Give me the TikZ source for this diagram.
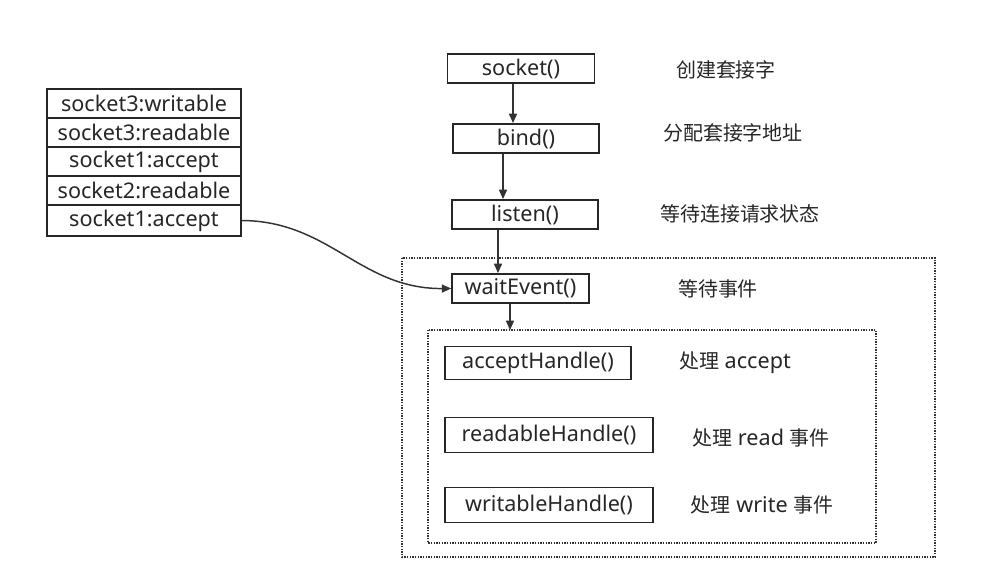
\documentclass[tikz,border=0pt]{standalone}
\usepackage{fontspec}
\setmainfont{Noto Sans}
\newfontfamily\cjk{Noto Sans CJK SC}[Scale=0.925]
\usetikzlibrary{arrows.meta}
\begin{document}
\begin{tikzpicture}[x=0.75pt,y=-0.75pt,
  every node/.style={font=\fontsize{16.2}{19}\selectfont, text=black!85},
  fbox/.style={draw=black!85, line width=1.2pt, minimum height=22pt, inner sep=0pt},
  qrow/.style={draw=black!85, line width=1pt, minimum width=145.5pt, minimum height=21.75pt, inner sep=0pt},
  lbl/.style={anchor=center},
  arr/.style={draw=black!80, line width=1.1pt, -{Triangle[length=7pt,width=6pt]}},
  dotbox/.style={draw=black!80, line width=0.9pt, dash pattern=on 0.9pt off 1.1pt}
]
\useasboundingbox (0,0) rectangle (986,582);
% outer dotted containers
\draw[dotbox] (402,258) rectangle (935,557);
\draw[dotbox] (428,330) rectangle (876,543);
\coordinate (innertop) at (510,330);
% main flow boxes
\node[fbox, minimum width=110pt] (socket) at (521,68.5) {socket()};
\node[fbox, minimum width=109.5pt] (bind) at (526,138.5) {bind()};
\node[fbox, minimum width=109.5pt] (listen) at (525,214.5) {listen()};
\node[fbox, minimum width=102.75pt] (wait) at (520.5,288.5) {waitEvent()};
\node[fbox, minimum width=139.5pt, minimum height=25pt] (acc) at (538,363) {acceptHandle()};
\node[fbox, minimum width=156pt, minimum height=26pt] (rd) at (549,435) {readableHandle()};
\node[fbox, minimum width=156pt, minimum height=26pt] (wr) at (549,505) {writableHandle()};
% labels
\node[lbl] (l1) at (726,70) {\cjk 创建套接字};
\node[lbl] (l2) at (733,133) {\cjk 分配套接字地址};
\node[lbl] (l3) at (740,214) {\cjk 等待连接请求状态};
\node[lbl] (l4) at (718,289) {\cjk 等待事件};
\node[lbl] (l5) at (735,363) {{\cjk 处理} accept};
\node[lbl] (l6) at (761,438) {{\cjk 处理} read {\cjk 事件}};
\node[lbl] (l7) at (762,505) {{\cjk 处理} write {\cjk 事件}};
% event queue
\node[qrow] (q1) at (144,103.5) {socket3:writable};
\node[qrow] (q2) at (144,132.5) {socket3:readable};
\node[qrow] (q3) at (144,161.5) {socket1:accept};
\node[qrow] (q4) at (144,190.5) {socket2:readable};
\node[qrow, minimum height=23pt] (q5) at (144,220.5) {socket1:accept};
% connectors
\draw[arr] (socket.south -| 513,0) -- (bind.north -| 513,0);
\draw[arr] (bind.south -| 503,0) -- (listen.north -| 503,0);
\draw[arr] (listen.south -| 498,0) -- (wait.north -| 498,0);
\draw[arr] (wait.south -| 510,0) -- (innertop);
\draw[arr] (q5.east) .. controls (330,221) and (360,289) .. (wait.west);
\end{tikzpicture}
\end{document}
